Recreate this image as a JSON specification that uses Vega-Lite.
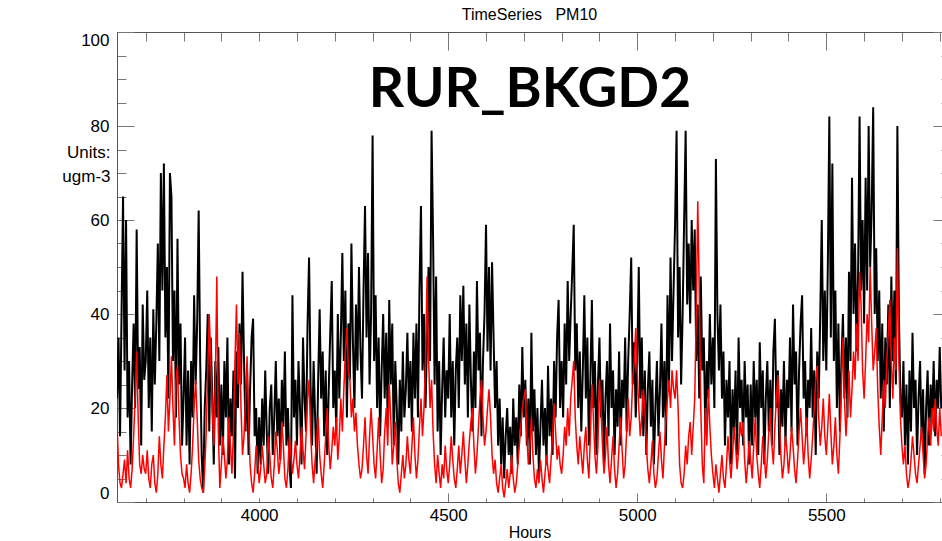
{
"$schema": "https://vega.github.io/schema/vega-lite/v6.json",
"autosize": {"type": "none"},
"padding": {"left": 117, "top": 32, "right": 0, "bottom": 39},
"width": 825,
"height": 470,
"background": "white",
"config": {"view": {"stroke": null}, "font": "Liberation Sans"},
"title": {"text": "TimeSeries\u00a0\u00a0\u00a0PM10", "fontSize": 16, "fontWeight": "normal", "font": "Liberation Sans", "color": "#000", "offset": 9, "dy": 17, "anchor": "middle", "baseline": "bottom", "frame": "group"},
"data": {"values": [
{"h":3624,"o":22,"m":17},{"h":3628,"o":35,"m":8},{"h":3632,"o":14,"m":4},{"h":3636,"o":40,"m":3},{"h":3640,"o":65,"m":6},{"h":3644,"o":28,"m":9},{"h":3648,"o":60,"m":4},{"h":3652,"o":18,"m":11},{"h":3656,"o":30,"m":5},{"h":3660,"o":8,"m":3},{"h":3664,"o":25,"m":7},{"h":3668,"o":38,"m":14},{"h":3672,"o":20,"m":22},{"h":3676,"o":58,"m":32},{"h":3680,"o":24,"m":18},{"h":3684,"o":33,"m":8},{"h":3688,"o":12,"m":6},{"h":3692,"o":42,"m":10},{"h":3696,"o":26,"m":7},
{"h":3700,"o":30,"m":6},{"h":3704,"o":45,"m":11},{"h":3708,"o":20,"m":5},{"h":3712,"o":35,"m":3},{"h":3716,"o":15,"m":8},{"h":3720,"o":41,"m":10},{"h":3724,"o":25,"m":4},{"h":3728,"o":38,"m":2},{"h":3732,"o":55,"m":6},{"h":3736,"o":30,"m":14},{"h":3740,"o":70,"m":8},{"h":3744,"o":45,"m":5},{"h":3748,"o":72,"m":12},{"h":3752,"o":35,"m":18},{"h":3756,"o":50,"m":27},{"h":3760,"o":22,"m":15},{"h":3764,"o":70,"m":22},{"h":3768,"o":65,"m":31},{"h":3772,"o":30,"m":20},{"h":3776,"o":45,"m":12},{"h":3780,"o":18,"m":26},{"h":3784,"o":56,"m":29},{"h":3788,"o":25,"m":18},{"h":3792,"o":38,"m":10},{"h":3796,"o":12,"m":6},
{"h":3800,"o":22,"m":5},{"h":3804,"o":35,"m":3},{"h":3808,"o":12,"m":8},{"h":3812,"o":28,"m":4},{"h":3816,"o":8,"m":2},{"h":3820,"o":30,"m":6},{"h":3824,"o":18,"m":12},{"h":3828,"o":44,"m":20},{"h":3832,"o":25,"m":26},{"h":3836,"o":38,"m":18},{"h":3840,"o":62,"m":9},{"h":3844,"o":30,"m":5},{"h":3848,"o":10,"m":3},{"h":3852,"o":2,"m":2},{"h":3856,"o":20,"m":7},{"h":3860,"o":28,"m":15},{"h":3864,"o":40,"m":28},{"h":3868,"o":15,"m":40},{"h":3872,"o":35,"m":30},{"h":3876,"o":22,"m":20},{"h":3880,"o":8,"m":12},{"h":3884,"o":30,"m":25},{"h":3888,"o":18,"m":48},{"h":3892,"o":33,"m":15},{"h":3896,"o":12,"m":3},
{"h":3900,"o":25,"m":8},{"h":3904,"o":10,"m":14},{"h":3908,"o":30,"m":10},{"h":3912,"o":18,"m":5},{"h":3916,"o":35,"m":9},{"h":3920,"o":8,"m":18},{"h":3924,"o":22,"m":12},{"h":3928,"o":14,"m":6},{"h":3932,"o":28,"m":15},{"h":3936,"o":5,"m":30},{"h":3940,"o":32,"m":42},{"h":3944,"o":20,"m":25},{"h":3948,"o":38,"m":36},{"h":3952,"o":25,"m":20},{"h":3956,"o":49,"m":10},{"h":3960,"o":30,"m":14},{"h":3964,"o":15,"m":22},{"h":3968,"o":28,"m":31},{"h":3972,"o":10,"m":18},{"h":3976,"o":24,"m":8},{"h":3980,"o":35,"m":4},{"h":3984,"o":39,"m":2},{"h":3988,"o":14,"m":6},{"h":3992,"o":20,"m":12},{"h":3996,"o":6,"m":9},
{"h":4000,"o":18,"m":4},{"h":4004,"o":8,"m":7},{"h":4008,"o":22,"m":12},{"h":4012,"o":12,"m":8},{"h":4016,"o":28,"m":4},{"h":4020,"o":15,"m":6},{"h":4024,"o":6,"m":14},{"h":4028,"o":20,"m":10},{"h":4032,"o":25,"m":5},{"h":4036,"o":10,"m":3},{"h":4040,"o":18,"m":8},{"h":4044,"o":30,"m":15},{"h":4048,"o":14,"m":11},{"h":4052,"o":22,"m":6},{"h":4056,"o":9,"m":9},{"h":4060,"o":26,"m":17},{"h":4064,"o":16,"m":12},{"h":4068,"o":32,"m":5},{"h":4072,"o":12,"m":3},{"h":4076,"o":20,"m":7},{"h":4080,"o":8,"m":14},{"h":4084,"o":3,"m":10},{"h":4088,"o":44,"m":6},{"h":4092,"o":18,"m":9},{"h":4096,"o":26,"m":13},
{"h":4100,"o":12,"m":8},{"h":4104,"o":30,"m":5},{"h":4108,"o":20,"m":10},{"h":4112,"o":8,"m":16},{"h":4116,"o":35,"m":11},{"h":4120,"o":22,"m":7},{"h":4124,"o":15,"m":14},{"h":4128,"o":38,"m":22},{"h":4132,"o":52,"m":26},{"h":4136,"o":25,"m":15},{"h":4140,"o":12,"m":8},{"h":4144,"o":30,"m":4},{"h":4148,"o":18,"m":9},{"h":4152,"o":6,"m":13},{"h":4156,"o":26,"m":18},{"h":4160,"o":41,"m":10},{"h":4164,"o":22,"m":6},{"h":4168,"o":32,"m":3},{"h":4172,"o":14,"m":8},{"h":4176,"o":28,"m":14},{"h":4180,"o":10,"m":20},{"h":4184,"o":24,"m":12},{"h":4188,"o":36,"m":7},{"h":4192,"o":47,"m":11},{"h":4196,"o":20,"m":16},
{"h":4200,"o":28,"m":12},{"h":4204,"o":15,"m":18},{"h":4208,"o":40,"m":9},{"h":4212,"o":22,"m":14},{"h":4216,"o":35,"m":22},{"h":4220,"o":53,"m":15},{"h":4224,"o":30,"m":24},{"h":4228,"o":45,"m":32},{"h":4232,"o":18,"m":37},{"h":4236,"o":38,"m":28},{"h":4240,"o":26,"m":26},{"h":4244,"o":55,"m":18},{"h":4248,"o":34,"m":22},{"h":4252,"o":20,"m":15},{"h":4256,"o":42,"m":19},{"h":4260,"o":28,"m":12},{"h":4264,"o":50,"m":8},{"h":4268,"o":32,"m":5},{"h":4272,"o":22,"m":7},{"h":4276,"o":45,"m":12},{"h":4280,"o":63,"m":18},{"h":4284,"o":35,"m":10},{"h":4288,"o":53,"m":6},{"h":4292,"o":25,"m":14},{"h":4296,"o":40,"m":20},
{"h":4300,"o":78,"m":14},{"h":4304,"o":30,"m":8},{"h":4308,"o":44,"m":5},{"h":4312,"o":20,"m":11},{"h":4316,"o":35,"m":18},{"h":4320,"o":14,"m":10},{"h":4324,"o":28,"m":4},{"h":4328,"o":40,"m":7},{"h":4332,"o":22,"m":15},{"h":4336,"o":36,"m":20},{"h":4340,"o":16,"m":12},{"h":4344,"o":43,"m":25},{"h":4348,"o":25,"m":18},{"h":4352,"o":38,"m":8},{"h":4356,"o":12,"m":12},{"h":4360,"o":30,"m":17},{"h":4364,"o":20,"m":9},{"h":4368,"o":8,"m":4},{"h":4372,"o":26,"m":2},{"h":4376,"o":15,"m":6},{"h":4380,"o":32,"m":10},{"h":4384,"o":18,"m":5},{"h":4388,"o":24,"m":8},{"h":4392,"o":36,"m":14},{"h":4396,"o":20,"m":9},
{"h":4400,"o":30,"m":6},{"h":4404,"o":15,"m":12},{"h":4408,"o":36,"m":18},{"h":4412,"o":22,"m":10},{"h":4416,"o":38,"m":5},{"h":4420,"o":18,"m":9},{"h":4424,"o":45,"m":16},{"h":4428,"o":63,"m":22},{"h":4432,"o":28,"m":14},{"h":4436,"o":40,"m":20},{"h":4440,"o":20,"m":30},{"h":4444,"o":35,"m":48},{"h":4448,"o":50,"m":31},{"h":4452,"o":30,"m":20},{"h":4456,"o":79,"m":26},{"h":4460,"o":56,"m":15},{"h":4464,"o":25,"m":8},{"h":4468,"o":48,"m":4},{"h":4472,"o":15,"m":10},{"h":4476,"o":30,"m":6},{"h":4480,"o":10,"m":3},{"h":4484,"o":24,"m":8},{"h":4488,"o":35,"m":5},{"h":4492,"o":18,"m":12},{"h":4496,"o":28,"m":7},
{"h":4500,"o":22,"m":4},{"h":4504,"o":40,"m":8},{"h":4508,"o":18,"m":14},{"h":4512,"o":30,"m":9},{"h":4516,"o":12,"m":5},{"h":4520,"o":28,"m":3},{"h":4524,"o":35,"m":7},{"h":4528,"o":20,"m":12},{"h":4532,"o":44,"m":6},{"h":4536,"o":30,"m":10},{"h":4540,"o":46,"m":15},{"h":4544,"o":25,"m":9},{"h":4548,"o":38,"m":4},{"h":4552,"o":18,"m":8},{"h":4556,"o":42,"m":13},{"h":4560,"o":26,"m":17},{"h":4564,"o":15,"m":20},{"h":4568,"o":32,"m":12},{"h":4572,"o":20,"m":6},{"h":4576,"o":47,"m":10},{"h":4580,"o":28,"m":16},{"h":4584,"o":36,"m":22},{"h":4588,"o":14,"m":26},{"h":4592,"o":30,"m":18},{"h":4596,"o":40,"m":12},
{"h":4600,"o":59,"m":15},{"h":4604,"o":32,"m":20},{"h":4608,"o":50,"m":24},{"h":4612,"o":28,"m":18},{"h":4616,"o":51,"m":10},{"h":4620,"o":35,"m":6},{"h":4624,"o":20,"m":9},{"h":4628,"o":30,"m":4},{"h":4632,"o":12,"m":2},{"h":4636,"o":22,"m":5},{"h":4640,"o":8,"m":8},{"h":4644,"o":18,"m":3},{"h":4648,"o":5,"m":1},{"h":4652,"o":14,"m":4},{"h":4656,"o":20,"m":7},{"h":4660,"o":10,"m":3},{"h":4664,"o":16,"m":6},{"h":4668,"o":6,"m":10},{"h":4672,"o":22,"m":5},{"h":4676,"o":12,"m":2},{"h":4680,"o":18,"m":4},{"h":4684,"o":8,"m":8},{"h":4688,"o":25,"m":12},{"h":4692,"o":14,"m":16},{"h":4696,"o":33,"m":20},
{"h":4700,"o":18,"m":22},{"h":4704,"o":26,"m":24},{"h":4708,"o":12,"m":14},{"h":4712,"o":22,"m":8},{"h":4716,"o":8,"m":12},{"h":4720,"o":36,"m":18},{"h":4724,"o":15,"m":10},{"h":4728,"o":24,"m":5},{"h":4732,"o":10,"m":3},{"h":4736,"o":20,"m":7},{"h":4740,"o":6,"m":4},{"h":4744,"o":16,"m":9},{"h":4748,"o":26,"m":5},{"h":4752,"o":12,"m":2},{"h":4756,"o":20,"m":6},{"h":4760,"o":8,"m":10},{"h":4764,"o":29,"m":7},{"h":4768,"o":14,"m":4},{"h":4772,"o":22,"m":9},{"h":4776,"o":10,"m":14},{"h":4780,"o":30,"m":21},{"h":4784,"o":18,"m":15},{"h":4788,"o":35,"m":9},{"h":4792,"o":43,"m":12},{"h":4796,"o":20,"m":8},
{"h":4800,"o":30,"m":6},{"h":4804,"o":18,"m":10},{"h":4808,"o":38,"m":16},{"h":4812,"o":25,"m":12},{"h":4816,"o":47,"m":20},{"h":4820,"o":30,"m":14},{"h":4824,"o":40,"m":22},{"h":4828,"o":49,"m":26},{"h":4832,"o":59,"m":30},{"h":4836,"o":28,"m":18},{"h":4840,"o":38,"m":12},{"h":4844,"o":20,"m":8},{"h":4848,"o":32,"m":14},{"h":4852,"o":15,"m":10},{"h":4856,"o":28,"m":6},{"h":4860,"o":44,"m":12},{"h":4864,"o":22,"m":16},{"h":4868,"o":35,"m":9},{"h":4872,"o":12,"m":5},{"h":4876,"o":26,"m":14},{"h":4880,"o":43,"m":25},{"h":4884,"o":20,"m":18},{"h":4888,"o":30,"m":10},{"h":4892,"o":10,"m":6},{"h":4896,"o":25,"m":12},
{"h":4900,"o":35,"m":26},{"h":4904,"o":18,"m":20},{"h":4908,"o":26,"m":12},{"h":4912,"o":8,"m":6},{"h":4916,"o":22,"m":10},{"h":4920,"o":30,"m":16},{"h":4924,"o":14,"m":8},{"h":4928,"o":38,"m":4},{"h":4932,"o":20,"m":9},{"h":4936,"o":28,"m":14},{"h":4940,"o":10,"m":7},{"h":4944,"o":24,"m":3},{"h":4948,"o":16,"m":6},{"h":4952,"o":32,"m":12},{"h":4956,"o":12,"m":18},{"h":4960,"o":26,"m":11},{"h":4964,"o":20,"m":5},{"h":4968,"o":35,"m":8},{"h":4972,"o":15,"m":15},{"h":4976,"o":30,"m":22},{"h":4980,"o":40,"m":14},{"h":4984,"o":52,"m":18},{"h":4988,"o":25,"m":26},{"h":4992,"o":34,"m":30},{"h":4996,"o":18,"m":37},
{"h":5000,"o":30,"m":28},{"h":5004,"o":50,"m":20},{"h":5008,"o":22,"m":14},{"h":5012,"o":35,"m":18},{"h":5016,"o":14,"m":24},{"h":5020,"o":28,"m":20},{"h":5024,"o":10,"m":12},{"h":5028,"o":24,"m":7},{"h":5032,"o":32,"m":4},{"h":5036,"o":16,"m":8},{"h":5040,"o":26,"m":13},{"h":5044,"o":8,"m":6},{"h":5048,"o":20,"m":3},{"h":5052,"o":30,"m":5},{"h":5056,"o":14,"m":10},{"h":5060,"o":24,"m":15},{"h":5064,"o":38,"m":9},{"h":5068,"o":18,"m":5},{"h":5072,"o":30,"m":12},{"h":5076,"o":12,"m":18},{"h":5080,"o":44,"m":22},{"h":5084,"o":25,"m":26},{"h":5088,"o":52,"m":20},{"h":5092,"o":30,"m":28},{"h":5096,"o":45,"m":24},
{"h":5100,"o":59,"m":22},{"h":5104,"o":79,"m":28},{"h":5108,"o":35,"m":20},{"h":5112,"o":50,"m":8},{"h":5116,"o":25,"m":4},{"h":5120,"o":40,"m":3},{"h":5124,"o":60,"m":6},{"h":5128,"o":79,"m":12},{"h":5132,"o":42,"m":8},{"h":5136,"o":55,"m":14},{"h":5140,"o":38,"m":17},{"h":5144,"o":60,"m":10},{"h":5148,"o":45,"m":16},{"h":5152,"o":58,"m":22},{"h":5156,"o":30,"m":40},{"h":5160,"o":42,"m":64},{"h":5164,"o":22,"m":45},{"h":5168,"o":48,"m":20},{"h":5172,"o":28,"m":8},{"h":5176,"o":35,"m":4},{"h":5180,"o":15,"m":20},{"h":5184,"o":30,"m":12},{"h":5188,"o":22,"m":24},{"h":5192,"o":40,"m":16},{"h":5196,"o":25,"m":10},
{"h":5200,"o":35,"m":6},{"h":5204,"o":20,"m":3},{"h":5208,"o":73,"m":8},{"h":5212,"o":40,"m":5},{"h":5216,"o":28,"m":2},{"h":5220,"o":42,"m":6},{"h":5224,"o":22,"m":10},{"h":5228,"o":32,"m":5},{"h":5232,"o":12,"m":3},{"h":5236,"o":26,"m":8},{"h":5240,"o":18,"m":14},{"h":5244,"o":30,"m":9},{"h":5248,"o":8,"m":5},{"h":5252,"o":24,"m":10},{"h":5256,"o":15,"m":16},{"h":5260,"o":28,"m":12},{"h":5264,"o":10,"m":7},{"h":5268,"o":35,"m":11},{"h":5272,"o":20,"m":17},{"h":5276,"o":26,"m":14},{"h":5280,"o":12,"m":17},{"h":5284,"o":30,"m":9},{"h":5288,"o":18,"m":4},{"h":5292,"o":25,"m":8},{"h":5296,"o":8,"m":13},
{"h":5300,"o":25,"m":9},{"h":5304,"o":12,"m":5},{"h":5308,"o":30,"m":12},{"h":5312,"o":18,"m":18},{"h":5316,"o":26,"m":10},{"h":5320,"o":10,"m":6},{"h":5324,"o":34,"m":3},{"h":5328,"o":20,"m":8},{"h":5332,"o":28,"m":14},{"h":5336,"o":8,"m":10},{"h":5340,"o":22,"m":5},{"h":5344,"o":30,"m":9},{"h":5348,"o":15,"m":15},{"h":5352,"o":26,"m":20},{"h":5356,"o":12,"m":12},{"h":5360,"o":32,"m":8},{"h":5364,"o":39,"m":16},{"h":5368,"o":20,"m":22},{"h":5372,"o":28,"m":27},{"h":5376,"o":10,"m":18},{"h":5380,"o":24,"m":10},{"h":5384,"o":16,"m":5},{"h":5388,"o":30,"m":8},{"h":5392,"o":12,"m":14},{"h":5396,"o":26,"m":11},
{"h":5400,"o":20,"m":6},{"h":5404,"o":35,"m":10},{"h":5408,"o":15,"m":16},{"h":5412,"o":42,"m":12},{"h":5416,"o":25,"m":7},{"h":5420,"o":32,"m":4},{"h":5424,"o":12,"m":9},{"h":5428,"o":28,"m":15},{"h":5432,"o":38,"m":20},{"h":5436,"o":44,"m":14},{"h":5440,"o":22,"m":8},{"h":5444,"o":30,"m":12},{"h":5448,"o":14,"m":18},{"h":5452,"o":26,"m":10},{"h":5456,"o":20,"m":5},{"h":5460,"o":37,"m":9},{"h":5464,"o":18,"m":14},{"h":5468,"o":28,"m":20},{"h":5472,"o":10,"m":26},{"h":5476,"o":32,"m":29},{"h":5480,"o":22,"m":18},{"h":5484,"o":40,"m":12},{"h":5488,"o":60,"m":16},{"h":5492,"o":30,"m":22},{"h":5496,"o":45,"m":14},
{"h":5500,"o":28,"m":10},{"h":5504,"o":50,"m":16},{"h":5508,"o":82,"m":23},{"h":5512,"o":35,"m":15},{"h":5516,"o":72,"m":8},{"h":5520,"o":30,"m":12},{"h":5524,"o":45,"m":18},{"h":5528,"o":20,"m":10},{"h":5532,"o":38,"m":6},{"h":5536,"o":15,"m":14},{"h":5540,"o":30,"m":25},{"h":5544,"o":40,"m":35},{"h":5548,"o":22,"m":22},{"h":5552,"o":35,"m":14},{"h":5556,"o":18,"m":20},{"h":5560,"o":49,"m":28},{"h":5564,"o":30,"m":18},{"h":5568,"o":69,"m":24},{"h":5572,"o":40,"m":32},{"h":5576,"o":55,"m":26},{"h":5580,"o":32,"m":38},{"h":5584,"o":48,"m":30},{"h":5588,"o":82,"m":49},{"h":5592,"o":45,"m":42},{"h":5596,"o":60,"m":28},
{"h":5600,"o":38,"m":22},{"h":5604,"o":69,"m":30},{"h":5608,"o":45,"m":40},{"h":5612,"o":80,"m":34},{"h":5616,"o":50,"m":50},{"h":5620,"o":62,"m":38},{"h":5624,"o":84,"m":28},{"h":5628,"o":40,"m":32},{"h":5632,"o":54,"m":37},{"h":5636,"o":30,"m":24},{"h":5640,"o":45,"m":16},{"h":5644,"o":22,"m":10},{"h":5648,"o":38,"m":18},{"h":5652,"o":15,"m":26},{"h":5656,"o":35,"m":20},{"h":5660,"o":25,"m":30},{"h":5664,"o":42,"m":36},{"h":5668,"o":20,"m":43},{"h":5672,"o":48,"m":30},{"h":5676,"o":30,"m":22},{"h":5680,"o":45,"m":35},{"h":5684,"o":25,"m":28},{"h":5688,"o":80,"m":54},{"h":5692,"o":40,"m":30},{"h":5696,"o":22,"m":18},
{"h":5700,"o":18,"m":12},{"h":5704,"o":30,"m":8},{"h":5708,"o":12,"m":12},{"h":5712,"o":25,"m":6},{"h":5716,"o":8,"m":3},{"h":5720,"o":28,"m":5},{"h":5724,"o":15,"m":9},{"h":5728,"o":36,"m":14},{"h":5732,"o":20,"m":10},{"h":5736,"o":26,"m":6},{"h":5740,"o":10,"m":4},{"h":5744,"o":22,"m":8},{"h":5748,"o":30,"m":12},{"h":5752,"o":14,"m":16},{"h":5756,"o":24,"m":10},{"h":5760,"o":6,"m":5},{"h":5764,"o":20,"m":8},{"h":5768,"o":28,"m":14},{"h":5772,"o":12,"m":18},{"h":5776,"o":25,"m":12},{"h":5780,"o":18,"m":20},{"h":5784,"o":30,"m":15},{"h":5788,"o":14,"m":22},{"h":5792,"o":26,"m":16},{"h":5796,"o":20,"m":12},
{"h":5800,"o":33,"m":20},{"h":5804,"o":20,"m":14}
]},
"layer": [
{"mark": {"type": "line", "color": "#000000", "strokeWidth": 2, "clip": true},
 "encoding": {
  "x": {"field": "h", "type": "quantitative", "scale": {"domain": [3624, 5806], "nice": false, "zero": false},
   "axis": {"orient": "bottom", "values": [3700,3800,3900,4000,4100,4200,4300,4400,4500,4600,4700,4800,4900,5000,5100,5200,5300,5400,5500,5600,5700,5800],
    "format": "d", "labelExpr": "datum.value % 500 === 0 ? datum.label : ''",
    "tickSize": {"condition": {"test": "datum.value % 500 === 0 && datum.value !== 4000", "value": -9}, "value": -4},
    "labelPadding": {"condition": {"test": "datum.value === 4000", "value": 9}, "value": 14},
    "labelFontSize": 17, "labelColor": "#000", "labelFont": "Liberation Sans", "labelOverlap": false,
    "domainColor": "#555", "tickColor": "#777", "grid": false,
    "title": "Hours", "titleFontSize": 16, "titleFontWeight": "normal", "titleColor": "#000", "titleFont": "Liberation Sans", "titlePadding": -4}},
  "y": {"field": "o", "type": "quantitative", "scale": {"domain": [0, 100], "nice": false},
   "axis": {"orient": "left", "values": [0,5,10,15,20,25,30,35,40,45,50,55,60,65,70,75,80,85,90,95,100],
    "labelExpr": "datum.value % 20 === 0 ? datum.label : ''",
    "tickSize": {"condition": {"test": "datum.value % 20 === 0", "value": -17}, "value": -9},
    "labelFlush": true, "labelPadding": 25, "labelFontSize": 17, "labelColor": "#000", "labelFont": "Liberation Sans", "labelOverlap": false,
    "domainColor": "#555", "tickColor": "#777", "grid": false,
    "title": ["Units:", "ugm-3"], "titleAngle": 0, "titleAlign": "right", "titleBaseline": "alphabetic", "titleX": -7, "titleY": 125, "titleLineHeight": 24,
    "titleFontSize": 17, "titleFontWeight": "normal", "titleColor": "#000", "titleFont": "Liberation Sans"}}
 }},
{"mark": {"type": "line", "color": "#ff0000", "strokeWidth": 1.5, "clip": true},
 "encoding": {
  "x": {"field": "h", "type": "quantitative",
   "axis": {"orient": "top", "values": [3700,3800,3900,4000,4100,4200,4300,4400,4500,4600,4700,4800,4900,5000,5100,5200,5300,5400,5500,5600,5700,5800],
    "labels": false, "tickSize": {"condition": {"test": "datum.value % 500 === 0 && datum.value !== 4000", "value": -18}, "value": -9},
    "domainColor": "#555", "tickColor": "#777", "grid": false, "title": null}},
  "y": {"field": "m", "type": "quantitative",
   "axis": {"orient": "right", "offset": 8, "values": [0,5,10,15,20,25,30,35,40,45,50,55,60,65,70,75,80,85,90,95,100],
    "labels": false, "tickSize": {"condition": {"test": "datum.value % 20 === 0", "value": -17}, "value": -9},
    "domainColor": "#555", "tickColor": "#777", "grid": false, "title": null}}
 }},
{"data": {"values": [{"label": "RUR_BKGD2"}]},
 "mark": {"type": "text", "font": "Lato", "fontWeight": "bold", "fontSize": 55, "color": "#000", "baseline": "alphabetic", "align": "center"},
 "encoding": {
  "x": {"datum": 4716, "type": "quantitative", "axis": null},
  "y": {"datum": 84, "type": "quantitative", "axis": null},
  "text": {"field": "label"}
 }}
],
"resolve": {"axis": {"x": "independent", "y": "independent"}}
}
